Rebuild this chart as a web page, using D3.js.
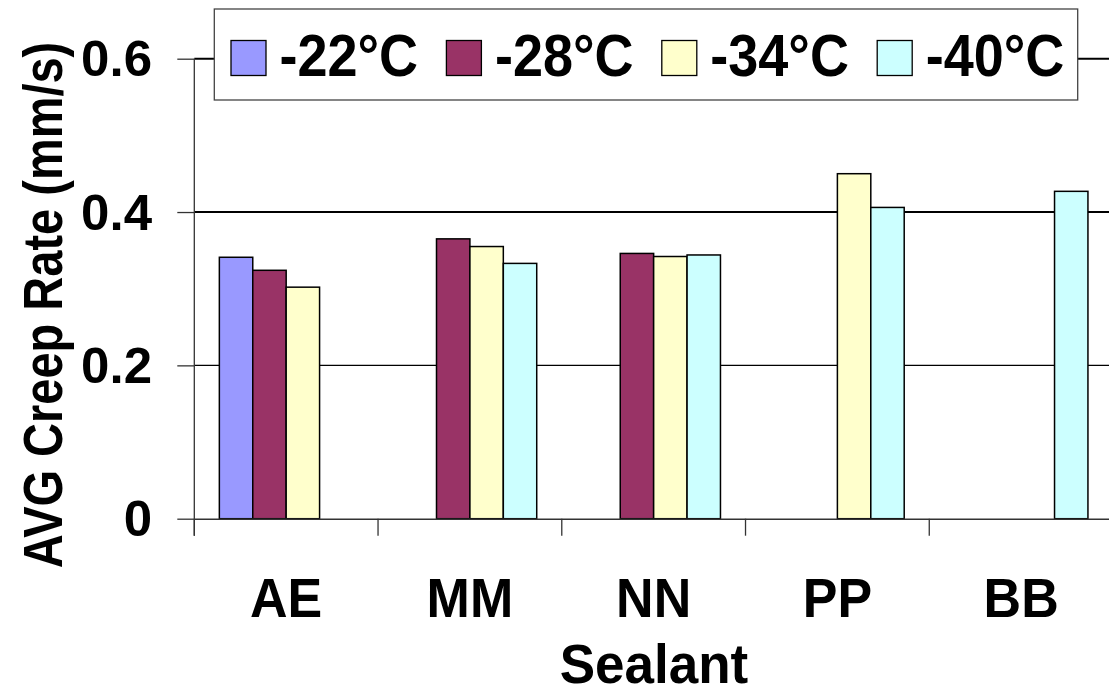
<!DOCTYPE html>
<html>
<head>
<meta charset="utf-8">
<script src="https://cdn.jsdelivr.net/npm/d3@7/dist/d3.min.js"></script>
<style>
  html, body { margin: 0; padding: 0; background: #fff; }
  svg { display: block; }
  text { font-family: "Liberation Sans", Arial, Helvetica, sans-serif; font-weight: bold; fill: #000; }
</style>
</head>
<body>
<svg id="chart" width="1109" height="688"></svg>
<script>
// ---- data ----
const categories = ["AE", "MM", "NN", "PP", "BB"];
const series = ["-22°C", "-28°C", "-34°C", "-40°C"];
const colors = ["#9999FF", "#993366", "#FFFFCC", "#CCFFFF"];
const valuesM22 = [0.341, null, null, null, null];
const valuesM28 = [0.324, 0.365, 0.346, null, null];
const valuesM34 = [0.302, 0.355, 0.342, 0.450, null];
const valuesM40 = [null, 0.333, 0.344, 0.406, 0.427];
const yTicks = [0, 0.2, 0.4, 0.6];
const yTickLabels = ["0", "0.2", "0.4", "0.6"];
const xTitle = "Sealant";
const yTitle = "AVG Creep Rate (mm/s)";

const seriesValues = [valuesM22, valuesM28, valuesM34, valuesM40];

// ---- layout ----
const svg = d3.select("#chart");
const plotLeft = 194.3, plotRight = 1113, plotTop = 58.7, plotBottom = 518.7;

const x = d3.scaleBand().domain(categories).range([plotLeft, plotRight]).paddingInner(0).paddingOuter(0);
const bw = x.bandwidth();
const gapHalf = bw * 1.5 / 5.5 / 2;
const xs = d3.scaleBand().domain(series).range([gapHalf, bw - gapHalf]).padding(0);
const y = d3.scaleLinear().domain([0, 0.6]).range([plotBottom, plotTop]);

// gridlines
svg.append("g").selectAll("line").data(yTicks.filter(d => d > 0)).join("line")
  .attr("x1", plotLeft).attr("x2", plotRight)
  .attr("y1", d => y(d)).attr("y2", d => y(d))
  .attr("stroke", "#000")
  .attr("stroke-width", d => d === 0.2 ? 1.1 : 2);

// bars
const bars = [];
categories.forEach((c, i) => {
  series.forEach((s, j) => {
    const v = seriesValues[j][i];
    if (v != null) bars.push({ c, s, v, j });
  });
});
svg.append("g").selectAll("rect").data(bars).join("rect")
  .attr("x", d => x(d.c) + xs(d.s))
  .attr("width", xs.bandwidth())
  .attr("y", d => y(d.v))
  .attr("height", d => y(0) - y(d.v))
  .attr("fill", d => colors[d.j])
  .attr("stroke", "#000")
  .attr("stroke-width", 1.5);

// x axis
const xAxis = d3.axisBottom(x).tickSize(0).tickFormat("");
const gx = svg.append("g").attr("transform", `translate(0,${plotBottom})`).call(xAxis);
gx.select(".domain").attr("stroke", "#333").attr("stroke-width", 1.5);
const boundaries = categories.map(c => x(c)).concat([plotRight]);
svg.append("g").selectAll("line").data(boundaries).join("line")
  .attr("x1", d => d).attr("x2", d => d)
  .attr("y1", plotBottom).attr("y2", plotBottom + 17)
  .attr("stroke", "#333").attr("stroke-width", 1.3);

// category labels
svg.append("g").selectAll("text").data(categories).join("text")
  .attr("transform", d => `translate(${x(d) + bw / 2},617.3) scale(1,1.08)`)
  .attr("text-anchor", "middle")
  .attr("font-size", 52)
  .text(d => d);

// y axis
const yAxis = d3.axisLeft(y).tickValues(yTicks).tickSize(17).tickFormat("");
const gy = svg.append("g").attr("transform", `translate(${plotLeft},0)`).call(yAxis);
gy.select(".domain").remove();
gy.selectAll(".tick line").attr("stroke", "#333").attr("stroke-width", 1.3);
svg.append("line")
  .attr("x1", plotLeft).attr("x2", plotLeft)
  .attr("y1", plotTop).attr("y2", plotBottom + 17)
  .attr("stroke", "#333").attr("stroke-width", 1.3);

svg.append("g").selectAll("text").data(yTicks).join("text")
  .attr("transform", d => `translate(152,${y(d) + 17.5}) scale(1.02,1)`)
  .attr("text-anchor", "end")
  .attr("font-size", 50)
  .text((d, i) => yTickLabels[i]);

// axis titles
svg.append("text")
  .attr("transform", `translate(654,682.5) scale(1,1.06)`)
  .attr("text-anchor", "middle")
  .attr("font-size", 53)
  .text(xTitle);

svg.append("text")
  .attr("transform", `translate(61.7,305) rotate(-90) scale(1,1.19)`)
  .attr("text-anchor", "middle")
  .attr("font-size", 47)
  .text(yTitle);

// legend
const lg = svg.append("g");
lg.append("rect")
  .attr("x", 214.3).attr("y", 9).attr("width", 1077.7 - 214.3).attr("height", 91)
  .attr("fill", "#fff").attr("stroke", "#444").attr("stroke-width", 1.3);
const items = lg.selectAll("g.item").data(series).join("g")
  .attr("class", "item")
  .attr("transform", (d, i) => `translate(${231 + i * 215.4},0)`);
items.append("rect")
  .attr("x", 0).attr("y", 40.5).attr("width", 35).attr("height", 35)
  .attr("fill", (d, i) => colors[i]).attr("stroke", "#000").attr("stroke-width", 1.3);
items.append("text")
  .attr("transform", "translate(48.5,76) scale(1,1.08)")
  .attr("font-size", 54)
  .text(d => d);
</script>
</body>
</html>
